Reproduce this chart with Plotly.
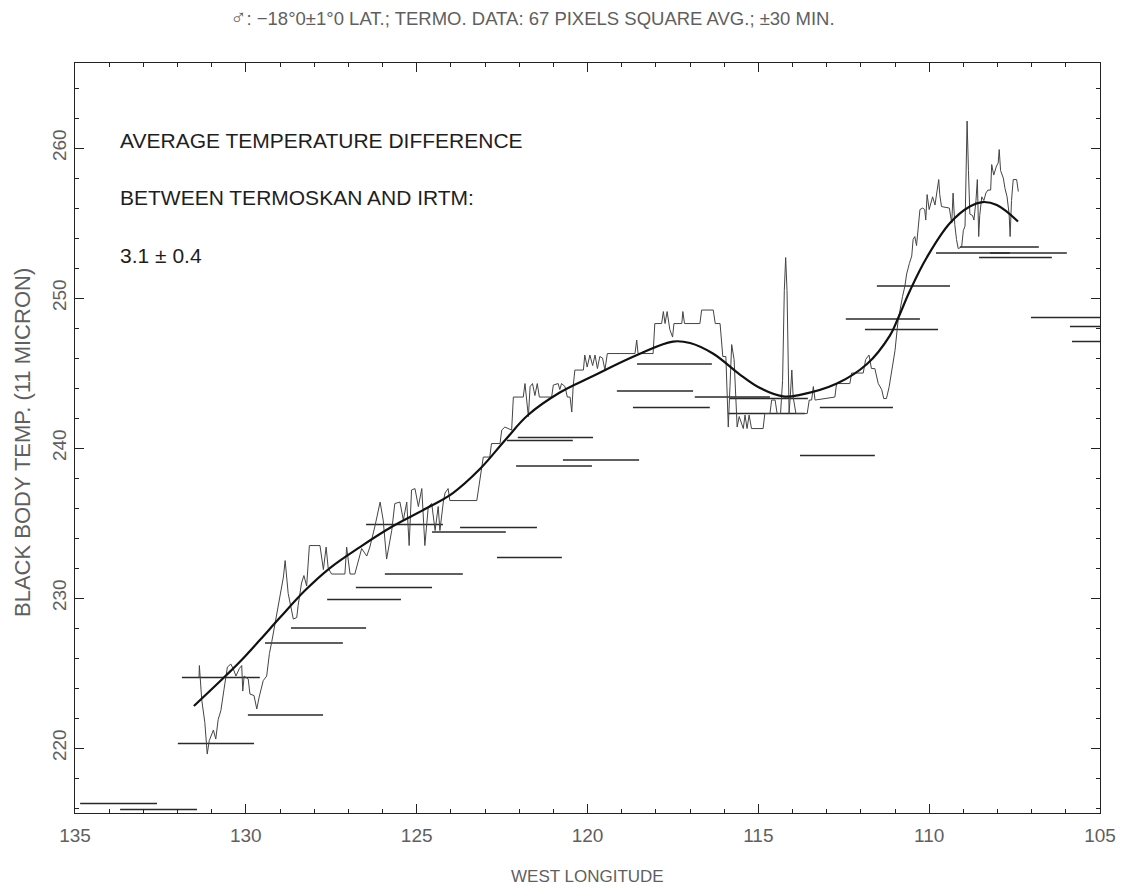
import plotly.graph_objects as go

# ---------------- data ----------------
# Termoskan brightness temperature profile (noisy trace)
LON_DATA = [131.37, 131.36, 131.29, 131.20, 131.13, 131.07, 130.95, 130.88, 130.81, 130.73,
            130.64, 130.54, 130.44, 130.37, 130.29, 130.19, 130.12, 130.09, 130.05, 129.93,
            129.88, 129.76, 129.68, 129.61, 129.49, 129.39, 129.31, 129.24, 128.90, 128.85,
            128.76, 128.61, 128.51, 128.47, 128.37, 128.30, 128.22, 128.14, 127.83, 127.73,
            127.65, 127.59, 127.49, 127.10, 127.05, 126.95, 126.81, 126.71, 126.61, 126.46,
            126.37, 126.22, 126.07, 125.98, 125.88, 125.73, 125.64, 125.49, 125.39, 125.29,
            125.22, 125.15, 125.05, 124.95, 124.85, 124.76, 124.66, 124.56, 124.46, 124.37,
            124.32, 124.22, 124.17, 124.08, 124.03, 123.24, 123.15, 123.05, 122.86, 122.81,
            122.56, 122.51, 122.42, 122.22, 122.17, 121.88, 121.83, 121.78, 121.73, 121.68,
            121.61, 121.54, 121.47, 121.41, 121.05, 121.00, 120.86, 120.81, 120.76, 120.66,
            120.59, 120.51, 120.46, 120.42, 120.37, 120.12, 120.08, 120.01, 119.93, 119.85,
            119.78, 119.71, 119.64, 119.56, 119.49, 119.42, 118.61, 118.56, 118.52, 118.08,
            118.03, 117.83, 117.78, 117.73, 117.67, 117.59, 117.51, 117.47, 117.24, 117.21,
            117.16, 116.71, 116.66, 116.32, 116.26, 116.12, 116.07, 116.04, 115.95, 115.91,
            115.88, 115.83, 115.78, 115.71, 115.66, 115.62, 115.56, 115.44, 115.39, 115.33,
            115.27, 115.20, 114.86, 114.81, 114.66, 114.61, 114.51, 114.45, 114.35, 114.29,
            114.24, 114.20, 114.16, 114.13, 114.10, 114.06, 114.02, 113.98, 113.90, 113.57,
            113.51, 113.44, 113.39, 113.34, 112.76, 112.71, 112.32, 112.27, 111.93, 111.86,
            111.76, 111.69, 111.59, 111.49, 111.39, 111.33, 111.25, 111.17, 111.10, 111.00,
            110.91, 110.86, 110.78, 110.71, 110.66, 110.58, 110.51, 110.47, 110.42, 110.37,
            110.32, 110.27, 110.19, 110.13, 110.10, 110.06, 110.00, 109.90, 109.83, 109.77,
            109.72, 109.69, 109.64, 109.41, 109.34, 109.30, 109.25, 109.20, 109.15, 109.05,
            109.00, 108.95, 108.92, 108.89, 108.85, 108.81, 108.73, 108.69, 108.63, 108.59,
            108.55, 108.52, 108.46, 108.40, 108.34, 108.28, 108.20, 108.17, 108.11, 108.03,
            107.98, 107.95, 107.91, 107.83, 107.78, 107.72, 107.66, 107.63, 107.59, 107.54,
            107.44, 107.39]
TEMP_DATA = [224.7, 225.5, 223.2, 221.7, 219.6, 220.5, 221.2, 220.6, 221.9, 222.5,
             223.9, 225.4, 225.6, 225.3, 224.8, 225.3, 225.5, 223.8, 224.8, 224.6,
             223.6, 223.5, 222.6, 223.4, 224.5, 224.8, 226.3, 227.1, 231.4, 232.5,
             230.3, 228.6, 228.7, 229.5, 231.0, 231.5, 230.8, 233.5, 233.5, 231.9,
             233.4, 232.0, 231.6, 231.6, 233.4, 231.6, 231.6, 232.5, 233.3, 232.8,
             233.4, 234.8, 236.4, 235.2, 232.6, 234.5, 236.3, 236.4, 235.2, 236.4,
             233.5, 237.2, 237.3, 236.1, 237.3, 233.5, 236.1, 236.3, 234.5, 236.1,
             234.5, 236.4, 237.0, 237.3, 236.5, 236.5, 237.9, 239.4, 239.4, 240.3,
             240.3, 241.2, 241.4, 241.2, 243.4, 243.4, 244.3, 243.0, 242.1, 244.1,
             244.3, 243.5, 244.3, 243.4, 243.4, 244.2, 244.3, 243.9, 244.3, 244.1,
             243.4, 243.4, 242.4, 244.1, 245.2, 245.2, 246.2, 245.4, 246.2, 245.5,
             246.2, 245.3, 246.1, 246.0, 245.2, 246.3, 246.3, 247.2, 246.3, 246.3,
             248.3, 248.3, 249.1, 248.3, 249.1, 247.9, 247.4, 248.3, 248.3, 249.1,
             248.3, 248.3, 249.2, 249.2, 248.3, 248.3, 247.2, 246.1, 246.1, 243.2,
             241.4, 244.1, 246.9, 245.9, 243.2, 241.4, 242.1, 241.3, 242.2, 241.3,
             242.2, 241.3, 241.3, 242.3, 242.3, 243.2, 243.2, 242.3, 242.3, 244.5,
             250.5, 252.7, 250.5, 245.0, 242.3, 243.6, 245.2, 243.4, 242.3, 242.3,
             243.2, 243.2, 244.1, 243.2, 243.4, 244.3, 244.3, 245.0, 245.0, 245.9,
             246.2, 245.3, 245.3, 244.3, 243.9, 243.3, 243.3, 244.1, 245.0, 246.5,
             248.5, 249.2, 250.1, 250.8, 251.6, 252.3, 252.8, 253.9, 254.1, 253.5,
             254.5, 255.9, 256.0, 255.9, 255.2, 256.9, 255.9, 256.75, 256.2, 257.1,
             257.9, 256.9, 256.1, 256.0, 255.0, 257.0, 254.9, 253.9, 253.3, 253.4,
             254.5, 254.8, 259.0, 261.8, 258.5, 255.6, 255.5, 255.2, 256.5, 257.9,
             254.1, 255.5, 256.75, 256.5, 257.0, 257.2, 257.2, 258.9, 258.2, 258.8,
             259.0, 259.9, 258.5, 258.0, 257.3, 256.75, 255.6, 254.1, 256.5, 257.9,
             257.9, 257.1]

# Smooth fit curve
LON_FIT = [131.52, 130.55, 130.11, 129.59, 129.00, 128.27, 127.54, 126.66, 125.69, 124.70,
           123.94, 123.15, 122.42, 121.74, 120.81, 119.93, 118.55, 117.50, 117.00, 116.33,
           115.54, 114.95, 114.28, 113.78, 112.70, 111.82, 111.15, 110.92, 110.56, 110.07,
           109.39, 108.81, 108.43, 108.02, 107.40]
TEMP_FIT = [222.8, 224.9, 225.9, 227.2, 228.7, 230.5, 232.0, 233.4, 234.8, 236.0,
            237.0, 238.6, 240.5, 242.2, 243.7, 244.7, 246.2, 247.1, 247.0, 246.3,
            244.9, 244.0, 243.45, 243.55, 244.3, 245.6, 247.5, 248.6, 250.5, 252.7,
            255.0, 256.1, 256.4, 256.2, 255.1]

# IRTM observations (horizontal segments)
SEG_START = [134.85, 133.68, 131.87, 129.44, 129.94, 131.99, 128.68, 127.62, 126.78, 125.93,
             126.48, 124.55, 123.73, 122.65, 122.04, 122.36, 120.72, 122.09, 119.14, 118.67,
             118.55, 116.86, 115.83, 115.89, 113.20, 113.78, 112.44, 111.53, 111.88, 109.10,
             109.80, 108.22, 108.54, 107.02, 105.88, 105.82]
SEG_END = [132.60, 131.43, 129.59, 127.16, 127.74, 129.76, 126.48, 125.46, 124.55, 123.65,
           124.23, 122.39, 121.48, 120.75, 119.84, 120.43, 118.49, 119.87, 116.91, 116.42,
           116.36, 114.66, 113.55, 113.64, 111.06, 111.59, 110.27, 109.39, 109.74, 106.79,
           107.64, 105.97, 106.41, 104.50, 104.50, 104.50]
SEG_TEMP = [216.3, 215.9, 224.7, 227.0, 222.2, 220.3, 228.0, 229.9, 230.7, 231.6,
            234.9, 234.4, 234.7, 232.7, 240.7, 240.5, 239.2, 238.8, 243.8, 242.7,
            245.6, 243.4, 243.3, 242.3, 242.7, 239.5, 248.6, 250.8, 247.9, 253.4,
            253.0, 253.0, 252.7, 248.7, 248.1, 247.1]

X_TICKS = [135, 130, 125, 120, 115, 110, 105]
Y_TICKS = [220, 230, 240, 250, 260]

TITLE = ("<span style='font-size:22px'>\u2642</span>: \u221218\u00b00\u00b11\u00b00 LAT.; "
         "TERMO. DATA: 67 PIXELS SQUARE AVG.; \u00b130 MIN.")
X_TITLE = "WEST LONGITUDE"
Y_TITLE = "BLACK BODY TEMP. (11 MICRON)"
NOTE_LINES = ["AVERAGE TEMPERATURE DIFFERENCE", "BETWEEN TERMOSKAN AND IRTM:", "3.1 \u00b1 0.4"]

# ---------------- figure ----------------
seg_x, seg_y = [], []
for a, b, t in zip(SEG_START, SEG_END, SEG_TEMP):
    seg_x += [a, b, None]
    seg_y += [t, t, None]

fig = go.Figure()
fig.add_trace(go.Scatter(x=seg_x, y=seg_y, mode="lines",
                         line=dict(color="#2a2a2a", width=1.5), hoverinfo="skip"))
fig.add_trace(go.Scatter(x=LON_DATA, y=TEMP_DATA, mode="lines",
                         line=dict(color="#444444", width=1.0)))
fig.add_trace(go.Scatter(x=LON_FIT, y=TEMP_FIT, mode="lines",
                         line=dict(color="#111111", width=2.2, shape="spline", smoothing=1.1)))

grey = "#5f5f5f"
fig.update_layout(
    width=1124, height=892,
    margin=dict(l=75, r=24, t=63, b=79, autoexpand=False),
    paper_bgcolor="white", plot_bgcolor="white",
    showlegend=False,
    font=dict(family="Liberation Sans, Arial, sans-serif", color=grey),
)

fig.update_xaxes(
    range=[135, 105], tickvals=X_TICKS, ticktext=[str(v) for v in X_TICKS],
    ticks="inside", ticklen=9, tickwidth=1, tickcolor="#222",
    minor=dict(dtick=1, ticks="inside", ticklen=4, tickcolor="#222"),
    showline=True, linecolor="#222", linewidth=1.2, mirror="ticks",
    showgrid=False, zeroline=False, ticklabelstandoff=5, automargin=False,
    tickfont=dict(size=19, color=grey),
)
fig.update_yaxes(
    range=[215.67, 265.67], tickvals=Y_TICKS, ticktext=[str(v) for v in Y_TICKS],
    tickangle=-90,
    ticks="inside", ticklen=9, tickwidth=1, tickcolor="#222",
    minor=dict(dtick=2, ticks="inside", ticklen=4, tickcolor="#222"),
    showline=True, linecolor="#222", linewidth=1.2, mirror="ticks",
    showgrid=False, zeroline=False, automargin=False,
    tickfont=dict(size=19, color=grey),
)

fig.add_annotation(text=TITLE, xref="paper", yref="paper", x=0.446, y=1.0613,
                   xanchor="center", yanchor="middle", showarrow=False,
                   font=dict(size=18.5, color=grey))
fig.add_annotation(text=X_TITLE, xref="paper", yref="paper", x=0.5, y=-0.084,
                   xanchor="center", yanchor="middle", showarrow=False,
                   font=dict(size=17, color=grey))
fig.add_annotation(text=Y_TITLE, xref="paper", yref="paper", x=-0.0517, y=0.4933,
                   xanchor="center", yanchor="middle", showarrow=False, textangle=-90,
                   font=dict(size=22, color=grey))
for txt, yy in zip(NOTE_LINES, [0.897, 0.821, 0.744]):
    fig.add_annotation(text=txt, xref="paper", yref="paper", x=0.042, y=yy,
                       xanchor="left", yanchor="middle", showarrow=False,
                       font=dict(size=21, color="#1e1e1e"))

fig.write_html("out.html")
